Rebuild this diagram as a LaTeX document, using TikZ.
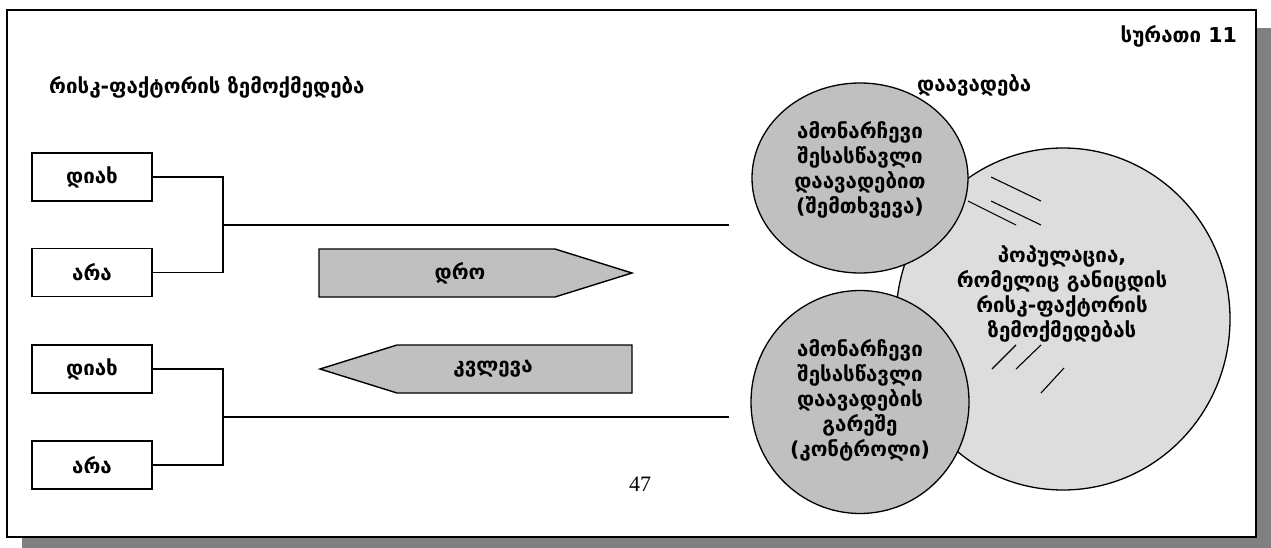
\documentclass[tikz,border=0pt]{standalone}
\usepackage{fontspec}
\setmainfont{DejaVu Sans}
\newfontfamily\numfont{Liberation Serif}
\usetikzlibrary{shapes.geometric}
\definecolor{silvergray}{RGB}{192,192,192}
\definecolor{lightfill}{RGB}{221,221,221}
\definecolor{shadowgray}{RGB}{128,128,128}
\begin{document}
\begin{tikzpicture}[x=1pt,y=-1pt,
  geo/.style={font=\bfseries\fontsize{20.5}{25}\selectfont, inner sep=0pt, align=center},
  boxn/.style={geo, draw, line width=1.6pt, minimum width=120pt, minimum height=48pt},
  conn/.style={line width=1.4pt},
  arrowshape/.style={draw, line width=1.4pt, fill=silvergray},
  smallell/.style={ellipse, draw, line width=1.3pt, fill=silvergray, inner sep=0pt},
  bigell/.style={ellipse, draw, line width=1.3pt, fill=lightfill, inner sep=0pt},
  hatch/.style={line width=1.1pt}]
\useasboundingbox (0,0) rectangle (1271,548);
% shadow and frame
\fill[shadowgray] (22,28) rectangle (1271,548);
\draw[line width=2pt, fill=white] (7,10) rectangle (1256,537);

% titles
\node[geo, anchor=east] (fig) at (1237,36) {სურათი 11};
\node[geo, anchor=west] (t1) at (49,87) {რისკ-ფაქტორის ზემოქმედება};
\node[geo, anchor=west] (t2) at (917,85) {დაავადება};

% boxes
\node[boxn] (b1) at (92,177) {დიახ};
\node[boxn] (b2) at (92,272.5) {არა};
\node[boxn] (b3) at (92,369) {დიახ};
\node[boxn] (b4) at (92,465) {არა};

% brackets
\coordinate (j1) at (223,225);
\coordinate (e1) at (729,225);
\coordinate (j2) at (223,417);
\coordinate (e2) at (729,417);
\draw[conn] (b1.east) -| (j1);
\draw[conn] (b2.east) -| (j1);
\draw[conn] (j1) -- (e1);
\draw[conn] (b3.east) -| (j2);
\draw[conn] (b4.east) -| (j2);
\draw[conn] (j2) -- (e2);

% arrows
\draw[arrowshape] (319,249) -- (555,249) -- (632,273) -- (555,297) -- (319,297) -- cycle;
\node[geo] (time) at (460,273) {დრო};
\draw[arrowshape] (320,369) -- (397,345) -- (632,345) -- (632,393) -- (397,393) -- cycle;
\node[geo] (study) at (493,369) {კვლევა};

% ellipses
\node[bigell, minimum width=334pt, minimum height=342pt] (pop) at (1063,319) {};
\node[smallell, minimum width=216pt, minimum height=190pt] (cases) at (860,178) {};
\node[smallell, minimum width=218pt, minimum height=223pt] (ctrl) at (860,402) {};

\node[geo] (casestxt) at (860,170) {ამონარჩევი\\შესასწავლი\\დაავადებით\\(შემთხვევა)};
\node[geo] (ctrltxt) at (860,400) {ამონარჩევი\\შესასწავლი\\დაავადების\\გარეშე\\(კონტროლი)};
\node[geo] (poptxt) at (1062,294) {პოპულაცია,\\რომელიც განიცდის\\რისკ-ფაქტორის\\ზემოქმედებას};

% hatch marks
\draw[hatch] (991,177) -- (1041,201);
\draw[hatch] (991,201) -- (1041,225);
\draw[hatch] (968,201) -- (1016,225);
\draw[hatch] (1016,345) -- (992,369);
\draw[hatch] (1041,345) -- (1016,369);
\draw[hatch] (1064,368) -- (1041,393);

% page number
\node[font=\numfont\fontsize{22}{22}\selectfont, inner sep=0pt] (pg) at (640,484) {47};
\end{tikzpicture}
\end{document}
